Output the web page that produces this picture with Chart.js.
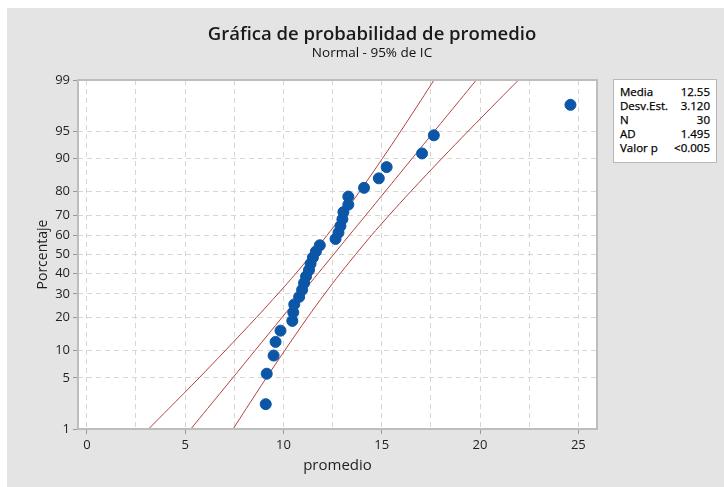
<!DOCTYPE html>
<html>
<head>
<meta charset="utf-8">
<script src="https://cdn.jsdelivr.net/npm/chart.js@4.4.1/dist/chart.umd.min.js"></script>
<style>
  body { margin: 0; background: #fff; font-family: "Open Sans", "Noto Sans", sans-serif; }
  #wrap { position: absolute; left: 7px; top: 8px; width: 717px; height: 479px; background: #e4e4e4; }
  #title { position: absolute; left: 0; width: 730px; top: 12px; text-align: center; font-size: 18.5px; font-weight: 600; color: #1a1a1a; }
  #subtitle { position: absolute; left: 0; width: 730px; top: 35px; text-align: center; font-size: 13.5px; color: #111; }
  #stats { position: absolute; left: 606px; top: 71px; width: 104px; height: 84px; background: #fff; border: 1px solid #b8b8b8; box-sizing: border-box; padding: 5px 6px 0 6px; font-size: 11.5px; color: #000; line-height: 14px; -webkit-text-stroke: 0.25px #000; }
  #stats div { display: flex; justify-content: space-between; }
</style>
</head>
<body>
<div id="wrap">
  <canvas id="probChart"></canvas>
  <div id="title">Gráfica de probabilidad de promedio</div>
  <div id="subtitle">Normal - 95% de IC</div>
  <div id="stats">
    <div><span>Media</span><span>12.55</span></div>
    <div><span>Desv.Est.</span><span>3.120</span></div>
    <div><span>N</span><span>30</span></div>
    <div><span>AD</span><span>1.495</span></div>
    <div><span>Valor p</span><span>&lt;0.005</span></div>
  </div>
</div>
<script>
// observed values (sorted) and their plotted percentages
const promedio = [9.1, 9.15, 9.5, 9.6, 9.85, 10.45, 10.5, 10.55, 10.8, 10.95,
  11.05, 11.15, 11.3, 11.38, 11.5, 11.65, 11.85, 12.65, 12.8, 12.9,
  13.0, 13.05, 13.3, 13.3, 14.1, 14.85, 15.25, 17.05, 17.65, 24.6];
const porcentaje = [2.3, 5.6, 8.9, 12.2, 15.5, 18.8, 22.0, 25.3, 28.6, 31.9,
  35.2, 38.5, 41.8, 45.1, 48.4, 51.6, 54.9, 58.2, 61.5, 64.8,
  68.1, 71.4, 74.7, 78.0, 81.3, 84.5, 87.8, 91.1, 94.4, 97.7];

// fitted line and 95% confidence band, read at these percentages
const bandPct = [1, 2, 5, 10, 20, 30, 40, 50, 60, 70, 80, 90, 95, 98, 99];
const fitX = [5.29, 6.14, 7.42, 8.55, 9.92, 10.91, 11.76, 12.55, 13.34, 14.19, 15.18, 16.55, 17.68, 18.96, 19.81];
const lowerX = [3.14, 4.17, 5.71, 7.04, 8.62, 9.72, 10.63, 11.43, 12.21, 13.00, 13.88, 15.04, 15.97, 16.99, 17.66];
const upperX = [7.44, 8.11, 9.13, 10.06, 11.22, 12.10, 12.89, 13.67, 14.47, 15.38, 16.48, 18.06, 19.40, 20.93, 21.96];

// axis ticks
const yTicks = [1, 5, 10, 20, 30, 40, 50, 60, 70, 80, 90, 95, 99];
const xTicks = [0, 2.5, 5, 7.5, 10, 12.5, 15, 17.5, 20, 22.5, 25];

// inverse normal cdf (Acklam) for the probability axis
function probit(p) {
  const a = [-39.69683028665376, 220.9460984245205, -275.9285104469687, 138.3577518672690, -30.66479806614716, 2.506628277459239];
  const b = [-54.47609879822406, 161.5858368580409, -155.6989798598866, 66.80131188771724, -13.28068155288572];
  const c = [-0.007784894002430293, -0.3223964580411365, -2.400758277161838, -2.549732539343734, 4.374664141464968, 2.938163982698783];
  const d = [0.007784695709041462, 0.3224671290700398, 2.445134137142996, 3.754408661907416];
  const pl = 0.02425;
  let q, r;
  if (p < pl) {
    q = Math.sqrt(-2 * Math.log(p));
    return (((((c[0]*q+c[1])*q+c[2])*q+c[3])*q+c[4])*q+c[5]) / ((((d[0]*q+d[1])*q+d[2])*q+d[3])*q+1);
  }
  if (p > 1 - pl) {
    q = Math.sqrt(-2 * Math.log(1 - p));
    return -(((((c[0]*q+c[1])*q+c[2])*q+c[3])*q+c[4])*q+c[5]) / ((((d[0]*q+d[1])*q+d[2])*q+d[3])*q+1);
  }
  q = p - 0.5; r = q * q;
  return (((((a[0]*r+a[1])*r+a[2])*r+a[3])*r+a[4])*r+a[5])*q / (((((b[0]*r+b[1])*r+b[2])*r+b[3])*r+b[4])*r+1);
}

class ProbabilityScale extends Chart.LinearScale {
  determineDataLimits() {
    this.min = this.options.min;
    this.max = this.options.max;
  }
  buildTicks() {
    return yTicks.map(v => ({ value: v }));
  }
  configure() {
    super.configure();
    this._zMin = probit(this.min / 100);
    this._zMax = probit(this.max / 100);
  }
  getPixelForValue(value) {
    const z = probit(value / 100);
    return this.getPixelForDecimal((z - this._zMin) / (this._zMax - this._zMin));
  }
}
ProbabilityScale.id = "probability";
ProbabilityScale.defaults = {};
Chart.register(ProbabilityScale);

const toPoints = (xs, ys) => xs.map((x, i) => ({ x: x, y: ys[i] }));

const lineColor = "#b5403f";
const gridColor = "#d6d6d6";
const tickFont = { family: "'Open Sans', 'Noto Sans', sans-serif", size: 13 };
const titleFont = { family: "'Open Sans', 'Noto Sans', sans-serif" };

const plotFrame = {
  id: "plotFrame",
  beforeDraw(chart) {
    const { ctx, chartArea: a } = chart;
    ctx.save();
    ctx.fillStyle = "#ffffff";
    ctx.fillRect(a.left, a.top, a.right - a.left, a.bottom - a.top);
    ctx.restore();
  },
  afterDraw(chart) {
    const { ctx, chartArea: a } = chart;
    ctx.save();
    ctx.strokeStyle = "#bdbdbd";
    ctx.lineWidth = 2;
    ctx.strokeRect(a.left, a.top, a.right - a.left, a.bottom - a.top);
    ctx.restore();
  },
};

new Chart(document.getElementById("probChart"), {
  type: "scatter",
  data: {
    datasets: [
      {
        data: toPoints(lowerX, bandPct),
        showLine: true, borderColor: lineColor, borderWidth: 1, pointRadius: 0, tension: 0.3, order: 2,
      },
      {
        data: toPoints(fitX, bandPct),
        showLine: true, borderColor: lineColor, borderWidth: 1, pointRadius: 0, tension: 0.3, order: 2,
      },
      {
        data: toPoints(upperX, bandPct),
        showLine: true, borderColor: lineColor, borderWidth: 1, pointRadius: 0, tension: 0.3, order: 2,
      },
      {
        data: toPoints(promedio, porcentaje),
        backgroundColor: "#0b56a6", borderColor: "#0b56a6", pointRadius: 5.5, order: 1,
      },
    ],
  },
  options: {
    responsive: true,
    maintainAspectRatio: false,
    animation: false,
    layout: { padding: { left: 11, top: 72, right: 127, bottom: 8 } },
    plugins: { legend: { display: false }, tooltip: { enabled: false } },
    scales: {
      x: {
        type: "linear", min: -0.45, max: 25.95,
        afterBuildTicks: (scale) => { scale.ticks = xTicks.map(v => ({ value: v })); },
        afterFit: (scale) => { scale.height = 50; },
        ticks: { autoSkip: false, maxRotation: 0, color: "#1f1f1f", font: tickFont, padding: 3,
          callback: (v) => (v % 5 === 0 ? String(v) : "") },
        grid: { color: gridColor, tickLength: 5,
          tickColor: (ctx) => (ctx.tick && ctx.tick.value % 5 === 0 ? "#999" : "rgba(0,0,0,0)") },
        border: { display: false, dash: [5, 4] },
        title: { display: true, text: "promedio", color: "#1f1f1f",
          font: { ...titleFont, size: 15 }, padding: { top: 0, bottom: 4 } },
      },
      y: {
        type: "probability", min: 1, max: 99,
        afterFit: (scale) => { scale.width = 60; },
        ticks: { autoSkip: false, color: "#1f1f1f", font: tickFont, padding: 3, callback: (v) => String(v) },
        grid: { color: gridColor, tickLength: 5, tickColor: "#999" },
        border: { display: false, dash: [5, 4] },
        title: { display: true, text: "Porcentaje", color: "#1f1f1f",
          font: { ...titleFont, size: 14 }, padding: { top: 17, bottom: 0 } },
      },
    },
  },
  plugins: [plotFrame],
});
</script>
</body>
</html>
